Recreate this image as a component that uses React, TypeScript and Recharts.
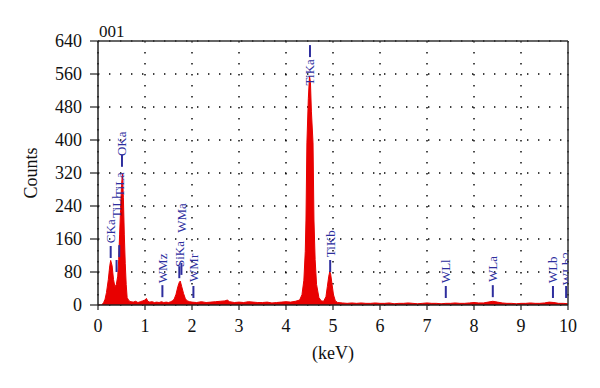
import React from 'react';
import { ComposedChart, Area, Scatter, XAxis, YAxis, CartesianGrid, ReferenceLine } from 'recharts';

// Spectrum (keV, counts)
const energyKeV = [
  0, 0.08, 0.12, 0.15, 0.18, 0.22, 0.25, 0.27, 0.30, 0.33, 0.36, 0.39, 0.42, 0.44, 0.46, 0.48, 0.50, 0.52, 0.54, 0.56, 0.58, 0.60, 0.62, 0.66, 0.70,
  0.75, 0.80, 0.85, 0.90, 0.95, 1.00, 1.03, 1.06, 1.10, 1.15, 1.20, 1.25, 1.30, 1.35, 1.40, 1.45, 1.50, 1.55,
  1.58, 1.62, 1.66, 1.70, 1.73, 1.75, 1.78, 1.82, 1.86, 1.90, 1.95,
  2.0, 2.1, 2.2, 2.3, 2.4, 2.5, 2.6, 2.7, 2.75, 2.8, 2.9, 3.0, 3.1, 3.2, 3.3, 3.4, 3.5, 3.6, 3.7, 3.8, 3.9, 4.0, 4.1, 4.2,
  4.29, 4.34, 4.38, 4.41, 4.425, 4.445, 4.475, 4.50, 4.52, 4.54, 4.575, 4.595, 4.62, 4.65, 4.70, 4.75, 4.80,
  4.85, 4.88, 4.91, 4.93, 4.95, 4.98, 5.01, 5.05, 5.1,
  5.2, 5.3, 5.4, 5.5, 5.6, 5.7, 5.8, 5.9, 6.0, 6.1, 6.2, 6.3, 6.4, 6.5, 6.6, 6.7, 6.8, 6.9, 7.0, 7.1, 7.2, 7.3, 7.4, 7.5,
  7.6, 7.7, 7.8, 7.9, 8.0, 8.1, 8.2, 8.3, 8.4, 8.5, 8.6, 8.7, 8.8, 8.9, 9.0, 9.1, 9.2, 9.3, 9.4, 9.5, 9.6, 9.7, 9.8, 9.9, 10.0,
];
const counts = [
  0, 0, 6, 14, 30, 62, 95, 108, 95, 62, 44, 50, 70, 110, 170, 230, 290, 318, 260, 170, 100, 50, 18, 10, 8,
  7, 9, 6, 8, 10, 12, 16, 9, 7, 8, 6, 7, 6, 8, 6, 7, 6, 8,
  10, 14, 26, 45, 55, 58, 45, 28, 15, 10, 8,
  7, 6, 8, 6, 7, 8, 9, 10, 12, 8, 6, 7, 6, 8, 7, 6, 6, 7, 5, 6, 7, 8, 7, 9,
  12, 25, 60, 130, 206, 393, 500, 555, 540, 470, 393, 206, 110, 50, 18, 10, 9,
  20, 45, 70, 80, 75, 50, 25, 10, 6,
  5, 4, 5, 4, 5, 4, 4, 5, 4, 4, 5, 3, 4, 4, 5, 4, 3, 4, 5, 4, 4, 3, 4, 4,
  5, 4, 4, 5, 6, 5, 5, 7, 9, 7, 5, 4, 4, 3, 4, 4, 5, 4, 4, 5, 7, 6, 4, 4, 3,
];

// Peak markers
const markerNames = ['CKa', 'TiLl', 'TiLa', 'OKa', 'WMz', 'SiKa', 'WMa', 'WMr', 'TiKa', 'TiKb', 'WLl', 'WLa', 'WLb', 'WLb2'];
const markerKeV = [0.27, 0.395, 0.452, 0.51, 1.37, 1.73, 1.775, 2.03, 4.51, 4.94, 7.40, 8.40, 9.68, 9.96];
const markerLineLevel = [114, 80, 116, 335, 19, 65, 73, 17, 601, 80, 17, 19, 17, 17];
const markerTextLevel = [150, 211, 262, 361, 53, 92, 175, 56, 596, 116, 53, 56, 53, 48];

const xTicks = [0, 1, 2, 3, 4, 5, 6, 7, 8, 9, 10];
const yTicks = [0, 80, 160, 240, 320, 400, 480, 560, 640];

const spectrum = energyKeV.map((e, i) => ({ keV: e, counts: counts[i] }));
const markerLines = markerNames.map((n, i) => ({ keV: markerKeV[i], counts: markerLineLevel[i], name: n }));
const markerTexts = markerNames.map((n, i) => ({
  keV: markerKeV[i],
  counts: markerTextLevel[i],
  name: n,
  below: markerTextLevel[i] < markerLineLevel[i],
}));

const BLUE = '#2e2e9e';
const SERIF = '"Liberation Serif", "DejaVu Serif", serif';

const LineShape = (props: any) => {
  const { cx, cy } = props;
  if (cx == null || cy == null) return null;
  return <line x1={cx} x2={cx} y1={cy} y2={cy - 12} stroke={BLUE} strokeWidth={2} />;
};

const TextShape = (props: any) => {
  const { cx, cy, payload } = props;
  if (cx == null || cy == null) return null;
  return (
    <text
      x={cx}
      y={cy}
      transform={`rotate(-90 ${cx} ${cy})`}
      textAnchor={payload.below ? 'end' : 'start'}
      dominantBaseline="central"
      fontSize={13}
      fontFamily={SERIF}
      fill={BLUE}
    >
      {payload.name}
    </text>
  );
};

export default function App() {
  return (
    <ComposedChart
      width={584}
      height={372}
      data={spectrum}
      margin={{ top: 33, right: 24, left: 0, bottom: 15 }}
      style={{ background: '#fff' }}
    >
      <CartesianGrid stroke="#000" strokeWidth={1.4} strokeDasharray="1.4 9.6" />
      <XAxis
        dataKey="keV"
        type="number"
        domain={[0, 10]}
        ticks={xTicks}
        height={60}
        tickSize={5}
        tickMargin={9}
        axisLine={{ stroke: '#222', strokeWidth: 1.5 }}
        tickLine={{ stroke: '#222', strokeWidth: 1.2 }}
        tick={{ fontSize: 18, fontFamily: SERIF, fill: '#111' }}
        interval={0}
        allowDataOverflow
        label={{
          content: (p: any) => (
            <text
              x={p.viewBox.x + p.viewBox.width / 2}
              y={p.viewBox.y + 54}
              textAnchor="middle"
              fontSize={18}
              fontFamily={SERIF}
              fill="#111"
            >
              (keV)
            </text>
          ),
        }}
      />
      <YAxis
        type="number"
        domain={[0, 640]}
        ticks={yTicks}
        width={90}
        tickSize={8}
        tickMargin={8}
        axisLine={{ stroke: '#222', strokeWidth: 1.5 }}
        tickLine={{ stroke: '#222', strokeWidth: 1.2 }}
        tick={{ fontSize: 18, fontFamily: SERIF, fill: '#111' }}
        interval={0}
        allowDataOverflow
        label={{
          content: (p: any) => {
            const x = 23;
            const y = p.viewBox.y + p.viewBox.height / 2;
            return (
              <text
                x={x}
                y={y}
                transform={`rotate(-90 ${x} ${y})`}
                textAnchor="middle"
                dominantBaseline="central"
                fontSize={18}
                fontFamily={SERIF}
                fill="#111"
              >
                Counts
              </text>
            );
          },
        }}
      />
      <Area
        type="linear"
        dataKey="counts"
        stroke="#e80000"
        strokeWidth={1}
        fill="#e80000"
        fillOpacity={1}
        dot={false}
        activeDot={false}
        isAnimationActive={false}
      />
      <ReferenceLine
        y={640}
        stroke="#333"
        strokeWidth={1.5}
        label={{
          content: (p: any) => (
            <text x={p.viewBox.x + 1} y={p.viewBox.y - 4} fontSize={17} fontFamily={SERIF} fill="#111">
              001
            </text>
          ),
        }}
      />
      <ReferenceLine x={10} stroke="#333" strokeWidth={1.5} />
      <Scatter data={markerLines} dataKey="counts" shape={LineShape} isAnimationActive={false} />
      <Scatter data={markerTexts} dataKey="counts" shape={TextShape} isAnimationActive={false} />
    </ComposedChart>
  );
}
